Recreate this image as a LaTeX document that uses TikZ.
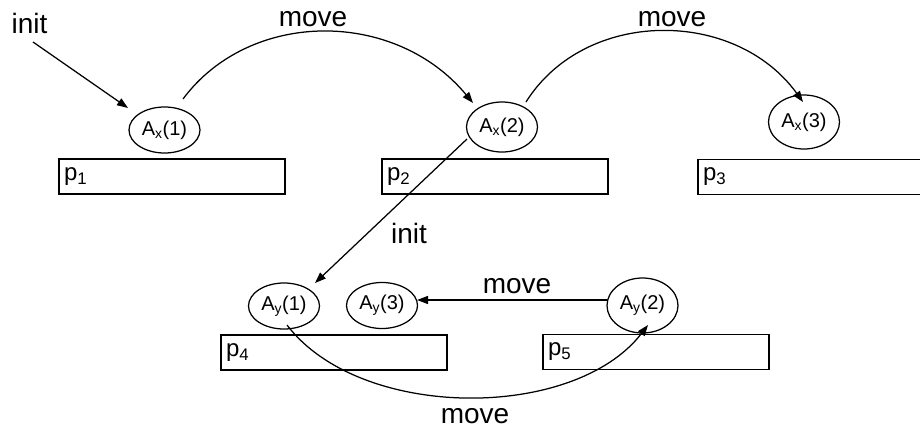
\documentclass[tikz,border=0pt]{standalone}
\usepackage{fontspec}
\setmainfont{Liberation Sans}
\usetikzlibrary{arrows.meta,shapes.geometric,calc}
\begin{document}
\begin{tikzpicture}[x=1pt,y=-1pt,
  state/.style={draw, ellipse, line width=1.25pt, inner sep=0pt,
    minimum width=71pt, font=\fontsize{20}{24}\selectfont},
  proc/.style={draw, rectangle, line width=1.25pt, minimum height=35pt,
    text width=216pt, inner xsep=5pt, inner ysep=0pt, align=left,
    font=\fontsize{24}{28}\selectfont},
  lbl/.style={inner sep=0pt, anchor=base, font=\fontsize{28}{32}\selectfont},
  link/.style={line width=1.25pt},
  arr/.style={link, -{Triangle[length=11pt,width=8pt]}}]
\useasboundingbox (0,0) rectangle (920,431);
\clip (0,0) rectangle (920,431);

% agent states
\node[state, minimum height=46pt] (Ax1) at (164.5,130) {A\textsubscript{x}(1)};
\node[state, minimum height=50pt] (Ax2) at (502,127) {A\textsubscript{x}(2)};
\node[state, minimum height=54pt] (Ax3) at (804,122) {A\textsubscript{x}(3)};
\node[state, minimum height=46pt] (Ay1) at (284,306) {A\textsubscript{y}(1)};
\node[state, minimum height=46pt] (Ay3) at (382,305.5) {A\textsubscript{y}(3)};
\node[state, minimum height=55pt] (Ay2) at (642.5,305.5) {A\textsubscript{y}(2)};

% places
\node[proc] (p1) at (172,176.5) {p\textsubscript{1}};
\node[proc] (p2) at (495,176.5) {p\textsubscript{2}};
\node[proc] (p3) at (811,177) {p\textsubscript{3}};
\node[proc] (p4) at (334,352.5) {p\textsubscript{4}};
\node[proc] (p5) at (656,352) {p\textsubscript{5}};

% labels
\node[lbl] (linit1) at (29.5,33) {init};
\node[lbl] (lmove1) at (313,26) {move};
\node[lbl] (lmove2) at (672,26) {move};
\node[lbl] (linit2) at (409,243) {init};
\node[lbl] (lmove3) at (517,293) {move};
\node[lbl] (lmove4) at (475,423) {move};

% transitions
\coordinate (initA) at (33,42);
\draw[arr] (initA) -- ($(Ax1)+(-36.5,-22)$);
\draw[arr] ($(Ax1)+(18.5,-31)$) .. controls (250,9) and (395,9) .. ($(Ax2)+(-29,-24)$);
\draw[arr] ($(Ax2)+(24,-25)$) .. controls (585,8) and (735,8) .. ($(Ax3)+(-1,-20)$);
\draw[arr] ($(Ax2)+(-35,12)$) -- ($(Ay1)+(31,-23)$);
\draw[arr] ($(Ay2)+(-35.5,-5.5)$) -- ($(Ay3)+(35,-5.5)$);
\draw[arr] ($(Ay1)+(3,19)$) .. controls (360,421) and (574,421) .. ($(Ay2)+(5.5,19.5)$);
\end{tikzpicture}
\end{document}
